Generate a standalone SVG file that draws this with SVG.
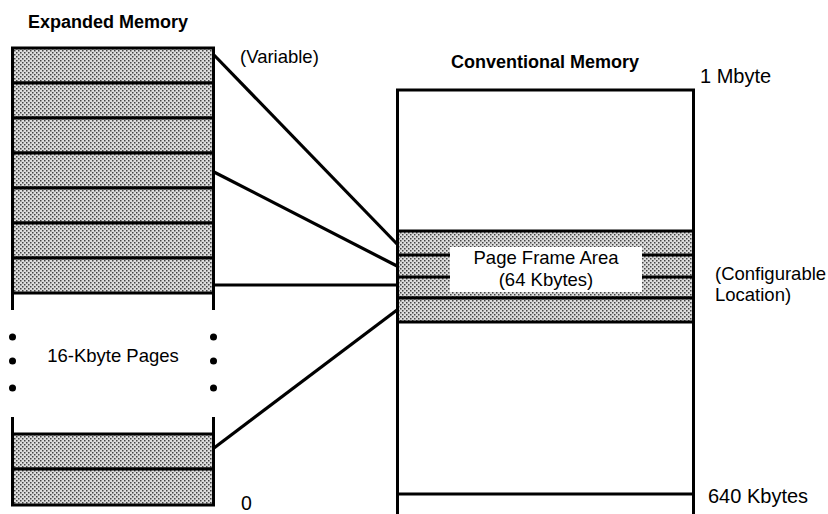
<svg xmlns="http://www.w3.org/2000/svg" width="828" height="514" viewBox="0 0 828 514">
<style>
  .t { font-family: "Liberation Sans", Arial, sans-serif; font-size: 18.5px; fill: #000; }
  .b { font-family: "Liberation Sans", Arial, sans-serif; font-size: 18px; font-weight: bold; fill: #000; }
  .box { fill: url(#dots); stroke: #000; stroke-width: 3; }
  .ln { stroke: #000; stroke-width: 3; fill: none; }
  .cn { stroke: #000; stroke-width: 3.2; fill: none; }
</style>
<defs>
  <pattern id="dots" width="4" height="4" patternUnits="userSpaceOnUse">
    <rect width="4" height="4" fill="#dcdcdc"/>
    <rect x="0" y="0" width="1.5" height="1.5" fill="#444"/>
    <rect x="2" y="2" width="1.5" height="1.5" fill="#444"/>
  </pattern>
</defs>
<rect width="828" height="514" fill="#fff"/>

<g id="expanded-memory">
  <text class="b" x="28" y="28">Expanded Memory</text>
  <rect class="box" x="12.5" y="48" width="201" height="35"/>
  <rect class="box" x="12.5" y="83" width="201" height="35"/>
  <rect class="box" x="12.5" y="118" width="201" height="35"/>
  <rect class="box" x="12.5" y="153" width="201" height="35"/>
  <rect class="box" x="12.5" y="188" width="201" height="35"/>
  <rect class="box" x="12.5" y="223" width="201" height="35"/>
  <rect class="box" x="12.5" y="258" width="201" height="35"/>
  <line class="ln" x1="12.5" y1="293" x2="12.5" y2="310"/>
  <line class="ln" x1="213.5" y1="293" x2="213.5" y2="310"/>
  <circle cx="12.5" cy="337" r="3.5"/>
  <circle cx="12.5" cy="361" r="3.5"/>
  <circle cx="12.5" cy="388" r="3.5"/>
  <circle cx="213.5" cy="337" r="3.5"/>
  <circle cx="213.5" cy="361" r="3.5"/>
  <circle cx="213.5" cy="388" r="3.5"/>
  <text class="t" x="113" y="362" text-anchor="middle">16-Kbyte Pages</text>
  <line class="ln" x1="12.5" y1="417" x2="12.5" y2="434"/>
  <line class="ln" x1="213.5" y1="417" x2="213.5" y2="434"/>
  <rect class="box" x="12.5" y="434" width="201" height="35"/>
  <rect class="box" x="12.5" y="469" width="201" height="36"/>
  <text class="t" x="240" y="63">(Variable)</text>
  <text class="t" x="241" y="510" style="font-size:19.5px">0</text>
</g>

<g id="conventional-memory">
  <text class="b" x="545" y="68" text-anchor="middle">Conventional Memory</text>
  <text class="t" x="700" y="83" style="font-size:20px">1 Mbyte</text>
  <polyline class="ln" points="397.5,516 397.5,90 693.5,90 693.5,516"/>
  <rect class="box" x="397.5" y="231" width="296" height="67"/>
  <rect class="box" x="397.5" y="298" width="296" height="24"/>
  <line class="ln" x1="397.5" y1="255" x2="450" y2="255"/>
  <line class="ln" x1="397.5" y1="277" x2="450" y2="277"/>
  <line class="ln" x1="642" y1="255" x2="693.5" y2="255"/>
  <line class="ln" x1="642" y1="277" x2="693.5" y2="277"/>
  <rect x="450" y="247" width="192" height="45" fill="#fff"/>
  <text class="t" x="546" y="264" text-anchor="middle">Page Frame Area</text>
  <text class="t" x="546" y="286" text-anchor="middle">(64 Kbytes)</text>
  <text class="t" x="715" y="280">(Configurable</text>
  <text class="t" x="715" y="301">Location)</text>
  <line class="ln" x1="397.5" y1="494" x2="693.5" y2="494"/>
  <text class="t" x="708" y="503" style="font-size:20px">640 Kbytes</text>
</g>

<g id="connectors">
  <line class="cn" x1="214" y1="55" x2="397" y2="244"/>
  <line class="cn" x1="214" y1="172" x2="397" y2="266"/>
  <line class="cn" x1="214" y1="285" x2="397" y2="285"/>
  <line class="cn" x1="214" y1="448" x2="397" y2="310"/>
</g>
</svg>
